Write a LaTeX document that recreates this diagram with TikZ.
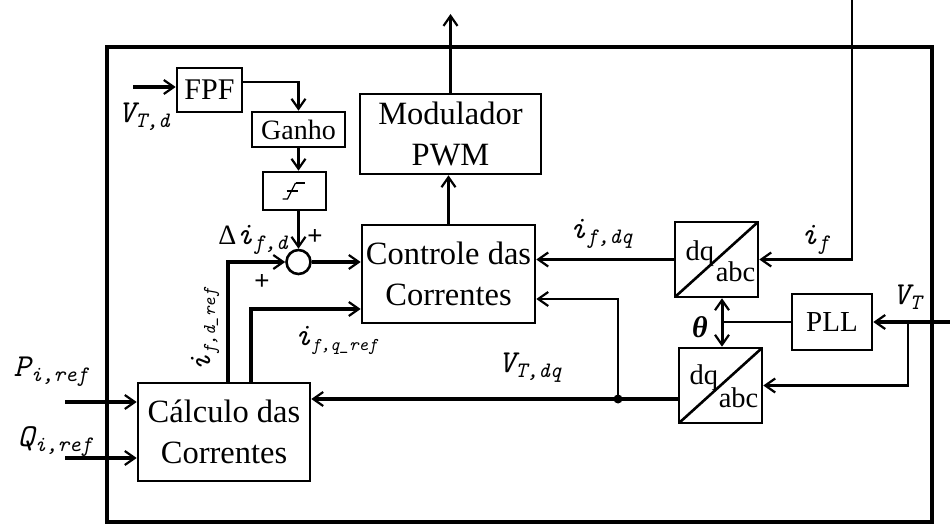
\documentclass[tikz,border=0pt]{standalone}
\usepackage{fontspec}
\setmainfont{Liberation Serif}
\newfontfamily\lsansfont{Liberation Sans}
\usetikzlibrary{arrows.meta,calc}
\newcommand{\vlab}[3][22]{{\ttfamily\itshape\fontsize{32}{32}\selectfont #2\raisebox{-5pt}{\fontsize{#1}{#1}\selectfont #3}}}
\tikzset{barb/.tip={Straight Barb[length=10pt,width=14pt,line width=2.2pt]}}
\begin{document}
\begin{tikzpicture}[x=1pt,y=-1pt,
  blk/.style={draw,line width=2.6pt,inner sep=0pt,align=center,font=\fontsize{28}{34}\selectfont},
  bigblk/.style={blk,font=\fontsize{32.5}{41}\selectfont},
  dqblk/.style={draw,line width=2.6pt,inner sep=0pt,minimum width=83,minimum height=75,
    path picture={\draw[line width=2.6pt] (path picture bounding box.south west) -- (path picture bounding box.north east);}},
  dqtxt/.style={inner sep=0pt,font=\fontsize{28.5}{28.5}\selectfont},
  conn/.style={line width=3.6pt,-barb},
  thinconn/.style={line width=2.7pt,-barb},
  thinline/.style={line width=2.7pt},
  plus/.style={font=\lsansfont\fontsize{26}{26}\selectfont},
]
\useasboundingbox (0,0) rectangle (950,526);
% frame
\node[draw,line width=4.5pt,minimum width=825,minimum height=475,inner sep=0pt] (frame) at (519.5,284.5) {};
% blocks
\node[blk,minimum width=65,minimum height=44,font=\fontsize{30}{34}\selectfont] (fpf) at (209.5,90) {FPF};
\node[blk,minimum width=93,minimum height=35] (gan) at (298.5,129.5) {Ganho};
\node[blk,minimum width=63,minimum height=38] (sat) at (294.5,191) {};
\draw[line width=1.3pt] ($(sat.center)+(1,-8)$) -- ($(sat.center)+(10,-8)$);
\draw[line width=1.3pt] ($(sat.center)+(-12,8)$) -- ($(sat.center)+(-7,8)$) -- ($(sat.center)+(1,-8)$);
\draw[line width=1.3pt] ($(sat.center)+(-8,0)$) -- ($(sat.center)+(3,0)$);
\node[draw,circle,line width=2.6pt,minimum size=24,inner sep=0pt] (sum) at (298.5,262) {};
\node[bigblk,minimum width=181,minimum height=80] (mod) at (450.5,134) {Modulador\\PWM};
\node[bigblk,minimum width=173,minimum height=98] (ctl) at (448.5,274) {Controle das\\Correntes};
\node[bigblk,minimum width=172,minimum height=98] (calc) at (224,432) {Cálculo das\\Correntes};
\node[dqblk] (dq1) at (716.5,259.5) {};
\node[dqtxt,anchor=base west] (dq1a) at ($(dq1.center)+(-31,1)$) {dq};
\node[dqtxt,anchor=base east] (dq1b) at ($(dq1.center)+(39,22)$) {abc};
\node[dqblk] (dq2) at (720.5,385.5) {};
\node[dqtxt,anchor=base west] (dq2a) at ($(dq2.center)+(-31,-1)$) {dq};
\node[dqtxt,anchor=base east] (dq2b) at ($(dq2.center)+(38,22)$) {abc};
\node[blk,minimum width=80,minimum height=56,font=\fontsize{29}{34}\selectfont] (pll) at (832,322) {PLL};
% connectors
\coordinate (vtd) at (133,87);
\draw[conn] (vtd) -- (vtd -| fpf.west);
\draw[thinconn] ($(fpf.east)+(0,-8)$) -| (gan.north);
\draw[conn] (gan.south) -- (gan.south |- sat.north);
\draw[conn] (gan.south |- sat.south) -- (sum.north);
\draw[conn] (sum.east) -- (sum.east -| ctl.west);
\draw[conn] ($(calc.north)+(4,0)$) |- (sum.west);
\draw[conn] ($(calc.north)+(27,0)$) |- ($(ctl.west)+(0,35)$);
\draw[conn] (ctl.north) -- (ctl.north |- mod.south);
\coordinate (pwmout) at (450.5,14);
\draw[conn] (mod.north) -- (pwmout);
\draw[conn] (dq1.west) -- (dq1.west -| ctl.east);
\coordinate (iftop) at (852,0);
\draw[thinconn] (iftop) |- (dq1.east);
\coordinate (vtin) at (950,322);
\draw[conn] (vtin) -- (pll.east);
\coordinate (vtbr) at (908,322);
\draw[thinconn] (vtbr) |- (dq2.east);
\coordinate (thbus) at (722,322);
\draw[thinline] (pll.west) -- (thbus);
\draw[line width=3pt,barb-barb] (thbus |- dq1.south) -- (thbus |- dq2.north);
\coordinate (dqout) at ($(dq2.west)+(0,13.5)$);
\coordinate (vdot) at (618,399);
\draw[conn] (dqout) -- (dqout -| calc.east);
\fill (vdot) circle (4.5);
\draw[thinconn] (vdot) |- ($(ctl.east)+(0,25)$);
\coordinate (pin) at (65,402);
\draw[conn] (pin) -- (pin -| calc.west);
\coordinate (qin) at (65,458);
\draw[conn] (qin) -- (qin -| calc.west);
% labels
\node (lvtd) at (144,117) {\vlab{V}{T,d}};
\node (ldelta) at (253,240) {{\fontsize{28}{28}\selectfont Δ}\vlab{i}{f,d}};
\node[plus] (plus1) at (315,237) {+};
\node[plus] (plus2) at (262,282) {+};
\node[rotate=90] (lidref) at (205,330) {\vlab[18]{i}{f,d\_ref}};
\node (liqref) at (336,340) {\vlab[18]{i}{f,q\_ref}};
\node (lifdq) at (601,234) {\vlab{i}{f,dq}};
\node (lif) at (815,240) {\vlab{i}{f}};
\node (lvt) at (907,297) {\vlab{V}{T}};
\node (lth) at (700,327) {\fontsize{30}{30}\selectfont\bfseries\itshape θ};
\node (lvtdq) at (530,368) {\vlab{V}{T,dq}};
\node (lp) at (51,372) {\vlab{P}{i,ref}};
\node (lq) at (55,442) {\vlab{Q}{i,ref}};
\end{tikzpicture}
\end{document}
